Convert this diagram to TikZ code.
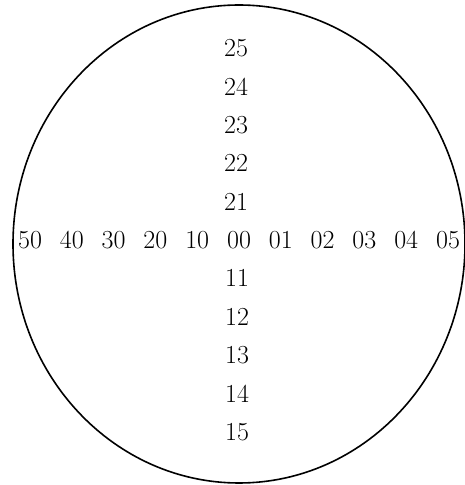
\documentclass[tikz,border=0pt]{standalone}
\usepackage{tikz}

\begin{document}
\begin{tikzpicture}[
  x=1pt, y=1pt,
  every node/.style={font=\fontsize{26}{30}\selectfont, inner sep=0pt},
  rim/.style={draw, line width=1.6pt}
]
  \useasboundingbox (0,0) rectangle (465,485);
  \draw[rim] (239,241) ellipse (226 and 239);

  % horizontal row
  \foreach \lbl [count=\i from 0] in {50,40,30,20,10,00,01,02,03,04,05}
    \node (h\lbl) at ({30+41.8*\i},245) {\lbl};

  % vertical column, above and below
  \foreach \lbl [count=\i] in {21,22,23,24,25}
    \node (v\lbl) at (236,{245+38.4*\i}) {\lbl};
  \foreach \lbl [count=\i] in {11,12,13,14,15}
    \node (v\lbl) at (237,{245-38.4*\i}) {\lbl};
\end{tikzpicture}
\end{document}
